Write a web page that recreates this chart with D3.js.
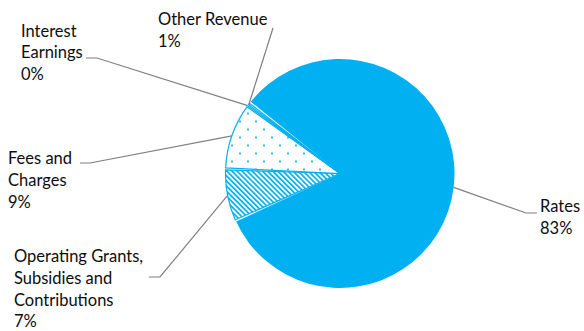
<!DOCTYPE html>
<html>
<head>
<meta charset="utf-8">
<script src="https://cdn.jsdelivr.net/npm/d3@7"></script>
<style>
  body { margin: 0; background: #fff; }
  text { font-family: Lato, "Open Sans", sans-serif; font-size: 16.5px; fill: #0d0d0d; }
</style>
</head>
<body>
<script>
// revenue shares, clockwise from the Rates slice
const categories = ['Rates', 'Operating Grants, Subsidies and Contributions', 'Fees and Charges', 'Interest Earnings', 'Other Revenue']
const values = [82.6, 7.4, 9.4, 0.1, 0.5]
const labelLines = [['Rates'], ['Operating Grants,', 'Subsidies and', 'Contributions'], ['Fees and', 'Charges'], ['Interest', 'Earnings'], ['Other Revenue']]
const fills = ['solid', 'stripes', 'dots', 'plain', 'plain']

// label layout: text origin + leader elbow + leader end
const labelPos = [
    {x: 540, y: 212, ex: 526, ey: 213, hx: 537},
    {x: 14, y: 262, ex: 160, ey: 277, hx: 149},
    {x: 8, y: 164, ex: 90, ey: 163, hx: 80},
    {x: 21, y: 36.5, ex: 97, ey: 58, hx: 86},
    {x: 158, y: 25, ex: 273, ey: 28, hx: 273}
]

var width = 584,
    height = 331
var cx = 340, cy = 173.5, radius = 114.5
var blue = '#00B0F0'

var svg = d3.select('body').append('svg')
    .attr('width', width)
    .attr('height', height)

var defs = svg.append('defs')

var dots = defs.append('pattern')
    .attr('id', 'dots')
    .attr('patternUnits', 'userSpaceOnUse')
    .attr('width', 16)
    .attr('height', 16)
dots.append('rect').attr('width', 16).attr('height', 16).attr('fill', '#fff')
dots.append('circle').attr('cx', 4).attr('cy', 4).attr('r', 1.1).attr('fill', blue)
dots.append('circle').attr('cx', 12).attr('cy', 12).attr('r', 1.1).attr('fill', blue)

var stripes = defs.append('pattern')
    .attr('id', 'stripes')
    .attr('patternUnits', 'userSpaceOnUse')
    .attr('width', 3.6)
    .attr('height', 4)
    .attr('patternTransform', 'rotate(-45)')
stripes.append('rect').attr('width', 3.6).attr('height', 4).attr('fill', '#fff')
stripes.append('rect').attr('width', 1.7).attr('height', 4).attr('fill', blue)

var pie = d3.pie()
    .sort(null)
    .startAngle(-51.7 * Math.PI / 180)
    .endAngle((360 - 51.7) * Math.PI / 180)

var arcs = pie(values)

var arc = d3.arc()
    .innerRadius(0)
    .outerRadius(radius)
    .padAngle(2 / radius)

var chart = svg.append('g')
    .attr('transform', `translate(${cx},${cy})`)

chart.selectAll('.slice')
    .data(arcs).enter()
    .append('path')
    .attr('class', 'slice')
    .attr('d', arc)
    .attr('fill', (d, i) => fills[i] == 'solid' ? blue : fills[i] == 'plain' ? '#fff' : `url(#${fills[i]})`)
    .attr('stroke', (d, i) => fills[i] == 'solid' ? 'none' : blue)
    .attr('stroke-width', 1.2)

// leader lines
var leader = d3.line()
arcs.forEach((d, i) => {
    let a = (d.startAngle + d.endAngle) / 2
    let p = labelPos[i]
    let px = cx + radius * Math.sin(a),
        py = cy - radius * Math.cos(a)
    svg.append('path')
        .attr('d', leader([[px, py], [p.ex, p.ey], [p.hx, p.ey]]))
        .attr('fill', 'none')
        .attr('stroke', '#7f7f7f')
        .attr('stroke-width', 1.2)
})

// labels
var labels = svg.selectAll('.label')
    .data(arcs).enter()
    .append('text')
    .attr('class', 'label')
    .attr('x', (d, i) => labelPos[i].x)
    .attr('y', (d, i) => labelPos[i].y)

labels.each(function(d, i) {
    let lines = labelLines[i].concat([Math.round(values[i]) + '%'])
    d3.select(this).selectAll('tspan')
        .data(lines).enter()
        .append('tspan')
        .attr('x', labelPos[i].x)
        .attr('dy', (t, j) => j == 0 ? 0 : 21.8)
        .text(String)
})
</script>
</body>
</html>
